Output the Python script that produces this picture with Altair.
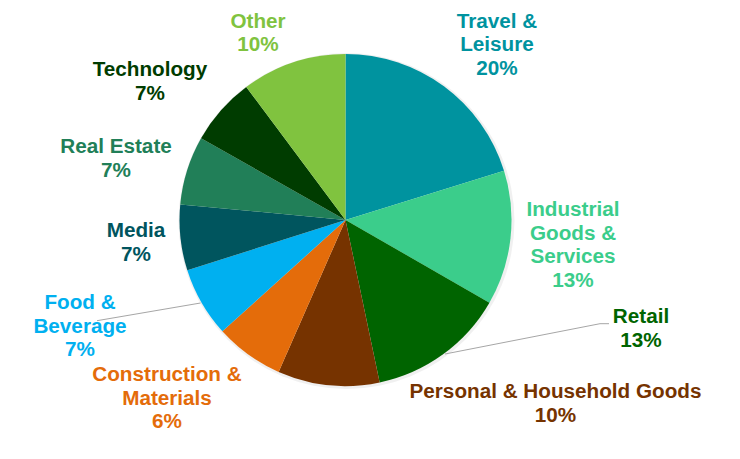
import altair as alt
import pandas as pd

# ---- data ----
categories = ["Travel & Leisure", "Industrial Goods & Services", "Retail",
              "Personal & Household Goods", "Construction & Materials",
              "Food & Beverage", "Media", "Real Estate", "Technology", "Other"]
shares = [20.2, 13.1, 13.4, 9.9, 6.7, 6.8, 6.4, 6.7, 6.6, 10.2]
pct_labels = ["20%", "13%", "13%", "10%", "6%", "7%", "7%", "7%", "7%", "10%"]
label_names = ["Travel &\nLeisure", "Industrial\nGoods &\nServices", "Retail",
               "Personal & Household Goods", "Construction &\nMaterials",
               "Food &\nBeverage", "Media", "Real Estate", "Technology", "Other"]

# ---- styling / layout ----
colors = ["#00939F", "#3BCD8B", "#006400", "#763300", "#E46C0A",
          "#00B0F0", "#00555E", "#217F58", "#003C00", "#80C33F"]
CX, CY, R = 337.5, 212, 166
# label anchor (centre x, first-line baseline y) in plot pixels
label_x = [489, 565, 633, 547.5, 159, 72, 128, 108, 142, 250]
label_y = [19.5, 208, 315, 390, 373, 301, 229, 145, 68, 19.5]

df = pd.DataFrame({
    "category": categories,
    "share": shares,
    "idx": list(range(len(categories))),
    "label": [f"{n}\n{p}" for n, p in zip(label_names, pct_labels)],
    "lx": label_x,
    "ly": label_y,
})

color_scale = alt.Scale(domain=categories, range=colors)

shadow = alt.Chart(alt.Data(values=[{"a": 1}])).mark_arc(
    radius=R + 2, theta=0, theta2=6.2832, color="#000000", opacity=0.06
).encode(x=alt.value(CX + 1), y=alt.value(CY + 1))

pie = alt.Chart(df).mark_arc(radius=R).encode(
    theta=alt.Theta("share:Q", stack=True),
    order=alt.Order("idx:Q"),
    color=alt.Color("category:N", scale=color_scale, legend=None),
    x=alt.value(CX),
    y=alt.value(CY),
)

# leader lines (label -> slice edge)
lines_df = pd.DataFrame({
    "g": ["food", "food", "retail", "retail", "retail"],
    "o": [0, 1, 0, 1, 2],
    "px": [89, 192.5, 601, 592, 437],
    "py": [312.7, 295, 315.7, 315.7, 346],
})
leaders = alt.Chart(lines_df).mark_line(color="#A6A6A6", strokeWidth=1).encode(
    x=alt.X("px:Q", scale=None),
    y=alt.Y("py:Q", scale=None),
    detail="g:N",
    order="o:Q",
)

labels = alt.Chart(df).mark_text(
    font="Liberation Sans", fontWeight="bold", fontSize=20.7,
    lineBreak="\n", lineHeight=23.5, align="center", baseline="alphabetic"
).encode(
    x=alt.X("lx:Q", scale=None),
    y=alt.Y("ly:Q", scale=None),
    text="label:N",
    color=alt.Color("category:N", scale=color_scale, legend=None),
)

chart = alt.layer(shadow, pie, leaders, labels).properties(
    width=724, height=443, autosize="none", padding=0
).configure_view(stroke="transparent", strokeWidth=0)

chart.save("out.html", embed_options={"renderer": "svg", "actions": False})
